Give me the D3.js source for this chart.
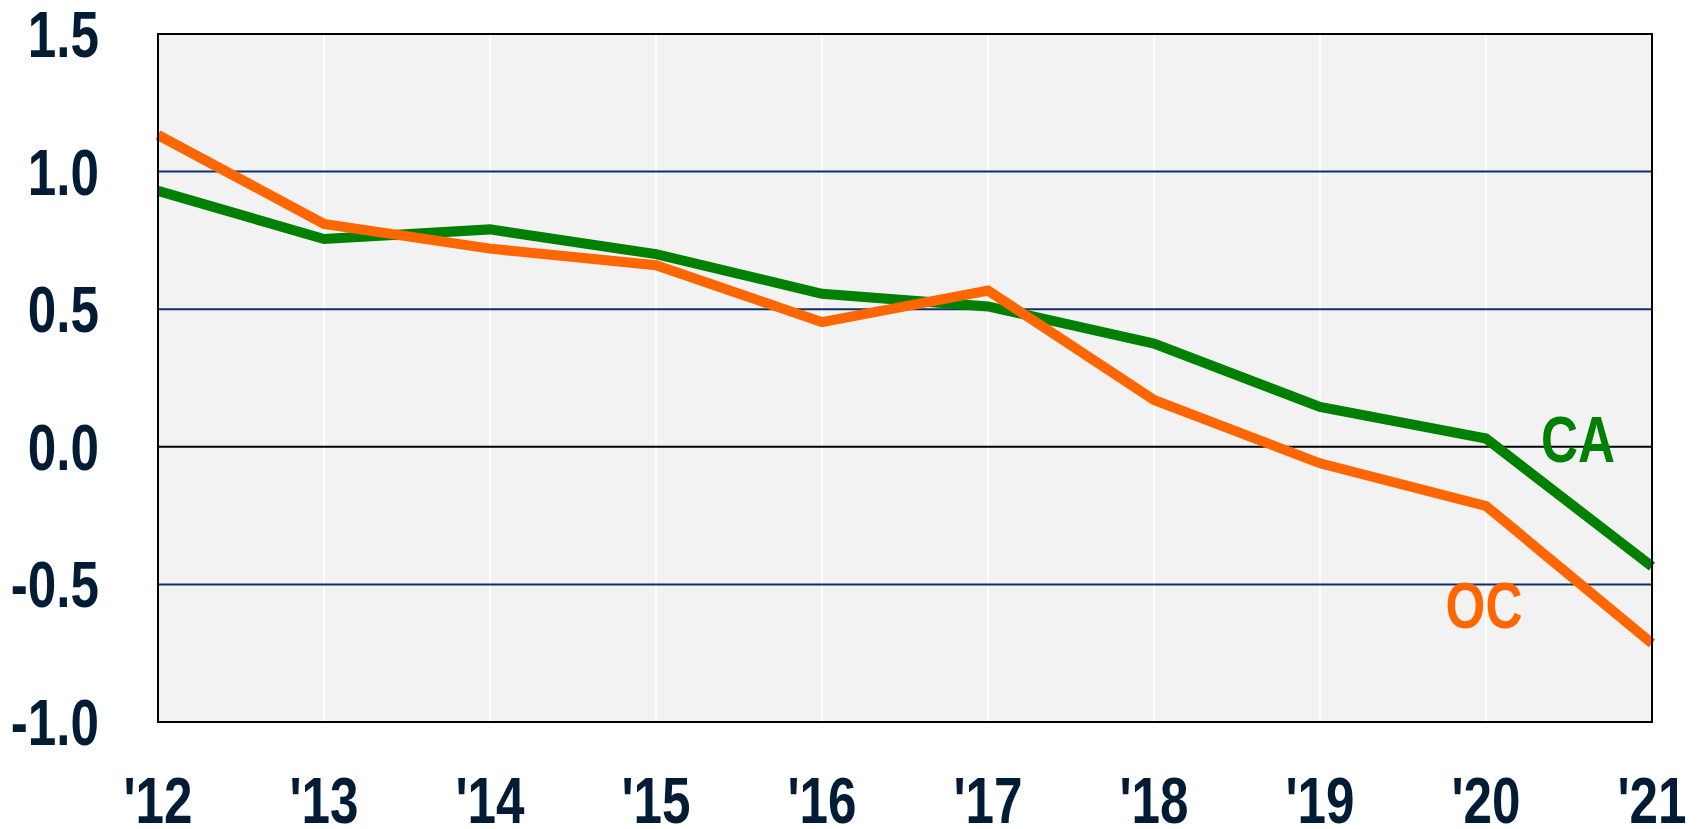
<!DOCTYPE html>
<html>
<head>
<meta charset="utf-8">
<script src="https://cdn.jsdelivr.net/npm/d3@7"></script>
<style>
  body { margin: 0; background: #fff; }
  text { font-family: "Liberation Sans", Arial, sans-serif; font-weight: bold; }
</style>
</head>
<body>
<div id="chart"></div>
<script>
var years = ["'12", "'13", "'14", "'15", "'16", "'17", "'18", "'19", "'20", "'21"]
var caValues = [0.93, 0.755, 0.79, 0.70, 0.556, 0.51, 0.375, 0.145, 0.03, -0.435]
var ocValues = [1.133, 0.81, 0.72, 0.66, 0.453, 0.568, 0.17, -0.06, -0.215, -0.714]
var yTicks = [-1.0, -0.5, 0.0, 0.5, 1.0, 1.5]

var margin = {top: 34, right: 48, bottom: 107, left: 158},
  width = 1700 - margin.left - margin.right,
  height = 829 - margin.top - margin.bottom

// fonts are wide, squeeze them like a narrow face
var squeeze = 0.8

var svg = d3.select("#chart").append("svg")
    .attr("width", 1700)
    .attr("height", 829)
  .append("g")
    .attr("transform", "translate(" + margin.left + "," + margin.top + ")")

var x = d3.scalePoint()
    .domain(years)
    .range([0, width])

var y = d3.scaleLinear()
    .domain([-1, 1.5])
    .range([height, 0])

svg.append("rect")
    .attr("width", width)
    .attr("height", height)
    .style("fill", "#f2f2f2")

// vertical white grid
svg.selectAll(".vgrid")
    .data(years.slice(1, -1)).enter()
  .append("line")
    .attr("class", "vgrid")
    .attr("x1", d => x(d)).attr("x2", d => x(d))
    .attr("y1", 0).attr("y2", height)
    .style("stroke", "#fff")
    .style("stroke-width", 2)

// horizontal grid
svg.selectAll(".hgrid")
    .data(yTicks.slice(1, -1)).enter()
  .append("line")
    .attr("class", "hgrid")
    .attr("x1", 0).attr("x2", width)
    .attr("y1", d => y(d)).attr("y2", d => y(d))
    .style("stroke", d => d == 0 ? "#000" : "#0b3366")
    .style("stroke-width", 2)

var line = d3.line()
    .x((d, i) => x(years[i]))
    .y(d => y(d))

svg.append("path")
    .attr("d", line(caValues))
    .style("fill", "none")
    .style("stroke", "#008000")
    .style("stroke-width", 10)

svg.append("path")
    .attr("d", line(ocValues))
    .style("fill", "none")
    .style("stroke", "#ff6600")
    .style("stroke-width", 10)

svg.append("rect")
    .attr("width", width)
    .attr("height", height)
    .style("fill", "none")
    .style("stroke", "#000")
    .style("stroke-width", 2)

function label(px, py, txt, anchor, color, dy) {
  svg.append("g")
      .attr("transform", "translate(" + px + "," + py + ") scale(" + squeeze + ",1)")
    .append("text")
      .attr("text-anchor", anchor)
      .attr("dy", dy || 0)
      .style("font-size", "64px")
      .style("fill", color)
      .text(txt)
}

yTicks.forEach(function(d) {
  label(-59, y(d), d.toFixed(1), "end", "#031c36", "0.36em")
})

years.forEach(function(d) {
  label(x(d), height + 101, d, "middle", "#031c36")
})

// series labels
label(x("'20") + 92, y(0) + 15, "CA", "middle", "#008000")
label(x("'20") - 2, y(-0.5) + 44, "OC", "middle", "#ff6600")
</script>
</body>
</html>
